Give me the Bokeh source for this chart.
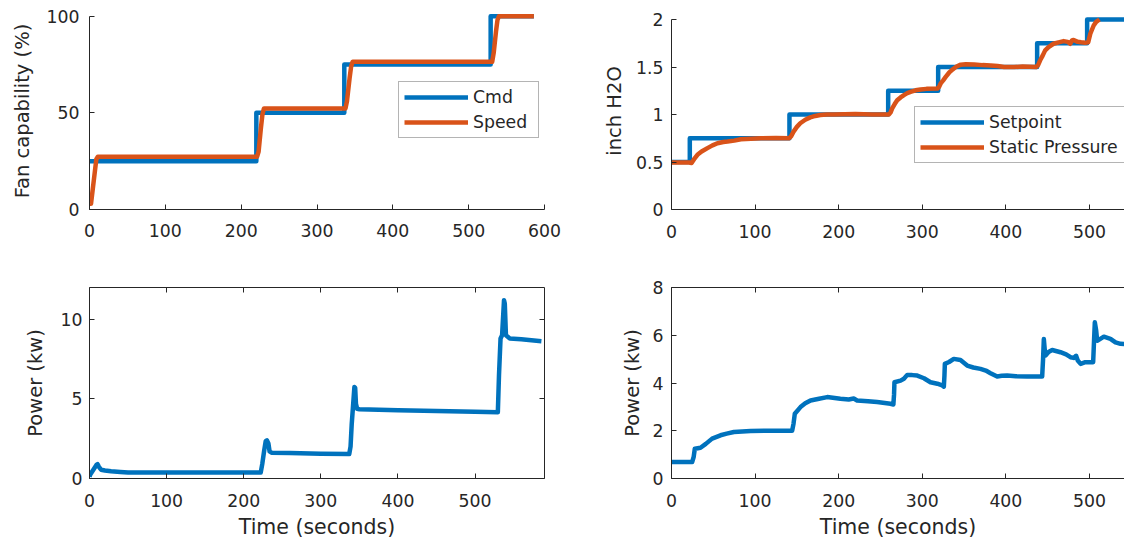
from bokeh.plotting import figure
from bokeh.models import (LinearAxis, FixedTicker, NumeralTickFormatter, Range1d,
                          Legend, LegendItem)
from bokeh.layouts import column, row
from bokeh.embed import file_html
from bokeh.resources import INLINE

BLUE = "#0072BD"
ORANGE = "#D95319"
INK = "#262626"
FONT = "DejaVu Sans"
TICK_FS = "17.3px"
YLABEL_FS = "19.5px"
XLABEL_FS = "20.5px"
LW = 4.5

# ---------------- data (time in seconds, value) ----------------
fan_cmd = [(0, 25), (220, 25), (220, 50), (336, 50), (336, 75), (529, 75), (529, 100), (586, 100)]
fan_speed = [(0, 3), (2, 3), (9, 26), (11, 27.3), (221, 27.3), (223, 30), (226, 42), (228, 49),
             (230, 52.2), (337.5, 52.2), (339.5, 56), (343, 68), (345, 74), (347, 76.4),
             (531, 76.4), (533, 81), (536, 92), (538, 98), (540, 100), (586, 100)]
fan_power = [(0, 0.1), (1, 0.25), (5, 0.55), (9, 0.85), (10.5, 0.9), (12, 0.75), (15, 0.55),
             (20, 0.5), (28, 0.45), (40, 0.41), (50, 0.38), (100, 0.37), (222, 0.37),
             (224, 0.9), (226.5, 1.75), (228.5, 2.35), (230, 2.4), (232, 2.2), (233.5, 1.7),
             (236, 1.62), (260, 1.6), (300, 1.56), (336.8, 1.54), (338.5, 2.0), (340, 3.4),
             (341.5, 4.4), (343.5, 5.75), (344.5, 5.7), (345.5, 4.7), (347, 4.38), (350, 4.35),
             (400, 4.29), (450, 4.24), (500, 4.19), (529.5, 4.17), (531, 6.5), (533, 8.8),
             (535, 9.0), (537.5, 11.2), (538.5, 11.0), (540, 9.0), (545, 8.8), (560, 8.75),
             (586, 8.63)]
setpoint = [(0, 0.5), (21.9, 0.5), (21.9, 0.75), (141.1, 0.75), (141.1, 1.0), (259.2, 1.0),
            (259.2, 1.25), (319, 1.25), (319, 1.5), (437.4, 1.5), (437.4, 1.75), (497.2, 1.75),
            (497.2, 2.0), (545, 2.0)]
static_pressure = [(0, 0.495), (21, 0.495), (24, 0.49), (27, 0.53), (31, 0.576), (36, 0.61),
                   (43, 0.646), (49, 0.675), (55, 0.698), (62, 0.71), (67, 0.715), (75, 0.725),
                   (83, 0.74), (95, 0.745), (107, 0.75), (125, 0.752), (140.5, 0.75), (143, 0.77),
                   (146, 0.82), (150, 0.87), (154, 0.908), (160, 0.945), (166, 0.97), (172, 0.985),
                   (178, 0.995), (186, 1.0), (194, 1.0), (220, 1.005), (240, 1.0), (260, 1.0),
                   (262, 1.02), (264, 1.065), (267, 1.11), (270, 1.15), (274, 1.18), (278, 1.204),
                   (282, 1.225), (286, 1.239), (292, 1.255), (298, 1.264), (305, 1.27),
                   (318, 1.274), (320, 1.29), (322, 1.327), (325, 1.36), (328, 1.396),
                   (332, 1.44), (336, 1.473), (341, 1.505), (346, 1.525), (352, 1.53),
                   (362, 1.527), (372, 1.52), (382, 1.516), (390, 1.51), (398, 1.5), (410, 1.5),
                   (420, 1.505), (436, 1.5), (438.5, 1.52), (441, 1.571), (444, 1.62),
                   (447, 1.675), (451, 1.71), (457, 1.745), (463, 1.76), (469, 1.773),
                   (474, 1.765), (477, 1.745), (479, 1.78), (481, 1.785), (486, 1.765),
                   (490, 1.76), (495, 1.756), (498.5, 1.76), (501, 1.85), (505, 1.937),
                   (508, 1.975), (512, 2.0)]
press_power = [(0, 0.69), (24.7, 0.69), (26.5, 0.9), (27.9, 1.25), (34.7, 1.29), (41, 1.45),
               (48.6, 1.67), (58.6, 1.81), (66, 1.88), (74.6, 1.95), (94.6, 1.99), (120, 2.0),
               (144.3, 2.0), (146, 2.3), (147.5, 2.71), (154.3, 2.99), (160, 3.15),
               (166.3, 3.27), (175, 3.33), (186.2, 3.41), (202, 3.34), (212, 3.31), (218, 3.35),
               (222, 3.27), (235, 3.24), (246, 3.2), (262, 3.13), (265.4, 3.1), (266.2, 3.5),
               (266.7, 4.03), (274, 4.1), (278, 4.18), (282, 4.34), (288, 4.33), (294, 4.31),
               (302, 4.2), (309.8, 4.03), (318, 3.97), (323.8, 3.9), (325.8, 3.85), (326.5, 4.3),
               (327, 4.8), (332, 4.88), (337.7, 5.01), (345.7, 4.96), (353.7, 4.73),
               (361, 4.65), (369.6, 4.59), (376, 4.52), (381.6, 4.41), (389.6, 4.27),
               (395, 4.3), (401.5, 4.31), (412, 4.28), (425.4, 4.27), (435, 4.27),
               (443.4, 4.27), (444.5, 5.0), (445.4, 5.84), (446.5, 5.4), (447.4, 5.15),
               (451, 5.3), (455.4, 5.38), (465.3, 5.29), (472, 5.2), (477.3, 5.08),
               (481, 5.05), (484, 5.14), (486, 4.94), (489.4, 4.8), (495, 4.87), (504.4, 4.87),
               (505.5, 5.8), (506.4, 6.54), (508, 6.2), (509.2, 5.77), (513, 5.85),
               (517.2, 5.94), (525.1, 5.85), (531.1, 5.7), (537.1, 5.64), (545, 5.62)]

fan_y_ticks = [0, 50, 100]
fan_x_ticks = [0, 100, 200, 300, 400, 500, 600]
fan_power_y_ticks = [0, 5, 10]
fan_power_x_ticks = [0, 100, 200, 300, 400, 500]
press_y_ticks = [0, 0.5, 1, 1.5, 2]
press_x_ticks = [0, 100, 200, 300, 400, 500]
press_power_y_ticks = [0, 2, 4, 6, 8]


def split(pts):
    return [p[0] for p in pts], [p[1] for p in pts]


def style_axis(ax, ticks, s1, s2, label_fs=YLABEL_FS, labels=True, bounds=None):
    ax.ticker = FixedTicker(ticks=ticks)
    ax.minor_tick_line_color = None
    ax.major_tick_in = 5
    ax.major_tick_out = 0
    ax.axis_line_color = INK
    ax.axis_line_width = 1
    ax.major_tick_line_color = INK
    ax.major_tick_line_width = 1
    ax.major_label_text_font = FONT
    ax.major_label_text_color = INK
    ax.major_label_text_font_size = TICK_FS
    ax.major_label_standoff = s1
    ax.axis_label_standoff = s2
    ax.axis_label_text_font = FONT
    ax.axis_label_text_font_size = label_fs
    ax.axis_label_text_font_style = "normal"
    ax.axis_label_text_color = INK
    if not labels:
        # box side: ticks only, no tick labels drawn
        ax.major_label_text_color = None
        ax.major_label_text_alpha = 0
        ax.major_label_text_font_size = "1px"
        ax.major_label_standoff = 0
    if bounds is not None:
        ax.bounds = bounds


def make_fig(width, height, borders, xr, yr):
    l, r, t, b = borders
    p = figure(width=width, height=height, x_range=Range1d(*xr), y_range=Range1d(*yr),
               output_backend="svg", toolbar_location=None,
               min_border_left=l, min_border_right=r, min_border_top=t, min_border_bottom=b,
               x_axis_type=None, y_axis_type=None)
    p.outline_line_color = None
    p.background_fill_color = "white"
    p.border_fill_color = "white"
    p.grid.visible = False
    return p


def add_legend(p, items, loc, min_label_width):
    leg = Legend(items=items, location=loc)
    leg.label_text_font = FONT
    leg.label_text_font_size = "17.3px"
    leg.label_text_color = INK
    leg.glyph_width = 64
    leg.glyph_height = 20
    leg.label_standoff = 5
    leg.label_width = min_label_width
    leg.padding = 5
    leg.spacing = 5
    leg.margin = 0
    leg.border_line_color = "#6a6a6a"
    leg.border_line_width = 1
    leg.background_fill_color = "white"
    leg.background_fill_alpha = 1
    p.add_layout(leg)


# ---------------- top-left: fan capability ----------------
p1 = make_fig(596, 262, (89, 52, 12, 53), (0, 600), (0, 101.9))
ax = LinearAxis(axis_label="Fan capability (%)")
style_axis(ax, fan_y_ticks, 10, 10, bounds=(0, 100))
p1.add_layout(ax, "left")
ax = LinearAxis()
style_axis(ax, fan_x_ticks, 14, 5)
p1.add_layout(ax, "below")
x, y = split(fan_cmd)
r_cmd = p1.line(x, y, line_color=BLUE, line_width=LW, line_join="round")
x, y = split(fan_speed)
r_speed = p1.line(x, y, line_color=ORANGE, line_width=LW, line_join="round")
add_legend(p1, [LegendItem(label="Cmd", renderers=[r_cmd]),
                LegendItem(label="Speed", renderers=[r_speed])], (309, 71), 60)

# ---------------- top-right: static pressure ----------------
p2 = make_fig(528, 262, (75, 0, 12, 53), (0, 541.9), (0, 2.074))
ax = LinearAxis(axis_label="inch H2O")
style_axis(ax, press_y_ticks, 8, 7, bounds=(0, 2))
ax.formatter = NumeralTickFormatter(format="0.[0]")
p2.add_layout(ax, "left")
ax = LinearAxis()
style_axis(ax, press_x_ticks, 15, 5)
p2.add_layout(ax, "below")
x, y = split(setpoint)
r_sp = p2.line(x, y, line_color=BLUE, line_width=LW, line_join="round")
x, y = split(static_pressure)
r_pr = p2.line(x, y, line_color=ORANGE, line_width=LW, line_join="round")
add_legend(p2, [LegendItem(label="Setpoint", renderers=[r_sp]),
                LegendItem(label="Static Pressure", renderers=[r_pr])], (243, 46), 140)

# ---------------- bottom-left: fan power ----------------
p3 = make_fig(596, 282, (89, 52, 25, 66), (0, 590), (0, 12))
ax = LinearAxis(axis_label="Power (kw)")
style_axis(ax, fan_power_y_ticks, 7, 11)
p3.add_layout(ax, "left")
ax = LinearAxis(axis_label="Time (seconds)")
style_axis(ax, fan_power_x_ticks, 15, 5, label_fs=XLABEL_FS)
p3.add_layout(ax, "below")
ax = LinearAxis()
style_axis(ax, fan_power_x_ticks, 0, 0, labels=False)
p3.add_layout(ax, "above")
ax = LinearAxis()
style_axis(ax, fan_power_y_ticks, 0, 0, labels=False)
p3.add_layout(ax, "right")
x, y = split(fan_power)
p3.line(x, y, line_color=BLUE, line_width=LW, line_join="round")

# ---------------- bottom-right: pressure-control power ----------------
p4 = make_fig(528, 282, (75, 0, 25, 66), (0, 541.9), (0, 8))
ax = LinearAxis(axis_label="Power (kw)")
style_axis(ax, press_power_y_ticks, 8, 6)
p4.add_layout(ax, "left")
ax = LinearAxis(axis_label="Time (seconds)")
style_axis(ax, press_x_ticks, 15, 5, label_fs=XLABEL_FS)
p4.add_layout(ax, "below")
ax = LinearAxis()
style_axis(ax, press_x_ticks, 0, 0, labels=False)
p4.add_layout(ax, "above")
x, y = split(press_power)
p4.line(x, y, line_color=BLUE, line_width=LW, line_join="round")

layout = column(row(p1, p2), row(p3, p4))

open("out.html", "w").write(file_html(layout, INLINE))
